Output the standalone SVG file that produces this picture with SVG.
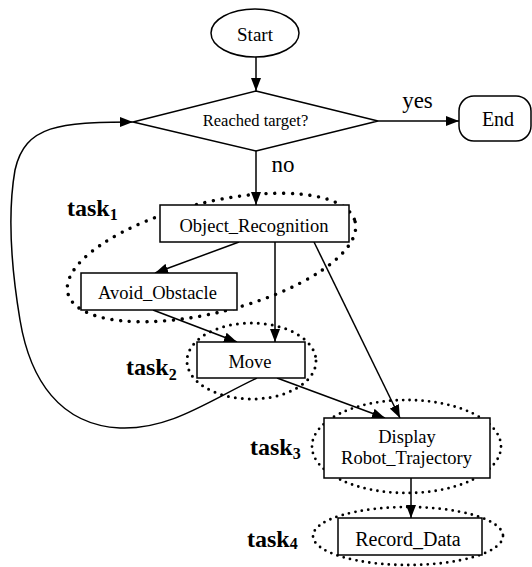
<svg xmlns="http://www.w3.org/2000/svg" width="532" height="567" viewBox="0 0 532 567">
  <style>
    .shape { fill: #fff; stroke: #000; stroke-width: 1.5; }
    .lbl { font-family: "Liberation Serif", "Times New Roman", serif; fill: #000; text-anchor: middle; }
    .task { font-family: "Liberation Serif", "Times New Roman", serif; font-weight: bold; font-size: 24px; fill: #000; }
    .task tspan { font-size: 16px; }
    .edge { fill: none; stroke: #000; stroke-width: 1.5; marker-end: url(#arrow); }
    .dots { fill: none; stroke: #000; stroke-linecap: round; }
  </style>
  <defs>
    <marker id="arrow" markerUnits="userSpaceOnUse" markerWidth="13" markerHeight="10" refX="13" refY="5" orient="auto">
      <path d="M0,0 L13,5 L0,10 z" fill="#000"/>
    </marker>
  </defs>

  <!-- task groupings (dotted outlines) -->
  <g id="task-groups">
    <ellipse class="dots" cx="211.5" cy="257.5" rx="148" ry="55" transform="rotate(-14 211.5 257.5)" stroke-width="3.4" stroke-dasharray="0 8.8"/>
    <ellipse class="dots" cx="251.5" cy="361" rx="64.5" ry="38" stroke-width="3" stroke-dasharray="0 7"/>
    <ellipse class="dots" cx="406.5" cy="446.5" rx="94.5" ry="46.5" stroke-width="2.8" stroke-dasharray="0 6.5"/>
    <ellipse class="dots" cx="408" cy="536" rx="95" ry="29" stroke-width="2.8" stroke-dasharray="0 6.5"/>
  </g>

  <!-- connectors -->
  <g id="connectors">
    <line class="edge" x1="256" y1="57" x2="256" y2="91"/>
    <line class="edge" x1="378" y1="121" x2="459" y2="121"/>
    <line class="edge" x1="256" y1="151" x2="256" y2="205"/>
    <line class="edge" x1="239" y1="242" x2="155" y2="273"/>
    <line class="edge" x1="275" y1="242" x2="275" y2="342"/>
    <line class="edge" x1="153" y1="310" x2="237" y2="342"/>
    <line class="edge" x1="314" y1="242" x2="400" y2="418"/>
    <line class="edge" x1="277" y1="378" x2="385" y2="418"/>
    <line class="edge" x1="411" y1="478" x2="411" y2="518"/>
    <path class="edge" d="M257,378 C210,400 170,430 120,428 C60,425 30,380 20,320 C10,260 8,210 15,170 C25,125 60,122 133,122"/>
  </g>

  <g id="start">
    <ellipse class="shape" cx="255" cy="33" rx="44" ry="24"/>
    <text class="lbl" x="255" y="41" font-size="19">Start</text>
  </g>

  <g id="reached-target">
    <polygon class="shape" points="256,91 378,121 256,151 133,122"/>
    <text class="lbl" x="255.5" y="126" font-size="16.5">Reached target?</text>
  </g>

  <g id="end">
    <rect class="shape" x="459" y="96" width="72" height="45" rx="15" ry="15"/>
    <text class="lbl" x="498" y="126" font-size="20">End</text>
  </g>

  <g id="edge-labels">
    <text class="lbl" x="417.5" y="108" font-size="23">yes</text>
    <text class="lbl" x="283" y="172" font-size="23">no</text>
  </g>

  <g id="object-recognition">
    <rect class="shape" x="160" y="205" width="189" height="37"/>
    <text class="lbl" x="254" y="231.5" font-size="18.5">Object_Recognition</text>
  </g>

  <g id="avoid-obstacle">
    <rect class="shape" x="81" y="273" width="156" height="37"/>
    <text class="lbl" x="157.5" y="299" font-size="18.5">Avoid_Obstacle</text>
  </g>

  <g id="move">
    <rect class="shape" x="197" y="342" width="108" height="36"/>
    <text class="lbl" x="250" y="368" font-size="18.5">Move</text>
  </g>

  <g id="display">
    <rect class="shape" x="324" y="418" width="166" height="60"/>
    <text class="lbl" x="407" y="443" font-size="18.5">Display</text>
    <text class="lbl" x="406.5" y="464" font-size="18.5">Robot_Trajectory</text>
  </g>

  <g id="record-data">
    <rect class="shape" x="338" y="518" width="144" height="37"/>
    <text class="lbl" x="408" y="546" font-size="20">Record_Data</text>
  </g>

  <g id="task-labels">
    <text class="task" x="67" y="216">task<tspan dy="4">1</tspan></text>
    <text class="task" x="126" y="375">task<tspan dy="5">2</tspan></text>
    <text class="task" x="250" y="455">task<tspan dy="4">3</tspan></text>
    <text class="task" x="247" y="547">task<tspan dy="2">4</tspan></text>
  </g>
</svg>
